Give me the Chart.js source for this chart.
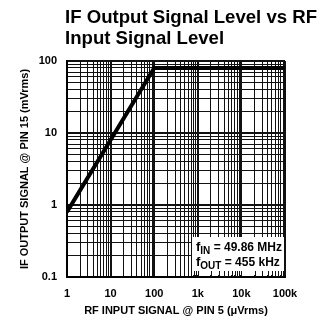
<!DOCTYPE html>
<html>
<head>
<meta charset="utf-8">
<script src="https://cdn.jsdelivr.net/npm/chart.js@4.4.0/dist/chart.umd.min.js"></script>
<style>
  html, body { margin: 0; padding: 0; background: #fff; }
  #wrap { width: 324px; height: 324px; position: relative; }
</style>
</head>
<body>
<div id="wrap"><canvas id="myChart"></canvas></div>
<script>
// RF input (uVrms) vs IF output (mVrms)
const rfInput = [1, 100, 100000];
const ifOutput = [0.8, 80, 80];

const xDecades = [1, 10, 100, 1000, 10000, 100000];
const xTickLabels = ['1', '10', '100', '1k', '10k', '100k'];
const yDecades = [0.1, 1, 10, 100];
const yTickLabels = ['0.1', '1', '10', '100'];

const titleLines = ['IF Output Signal Level vs RF', 'Input Signal Level'];
const noteLines = [['f', 'IN', ' = 49.86 MHz'], ['f', 'OUT', ' = 455 kHz']];

const FONT = '"Liberation Sans", Arial, sans-serif';

// ticks at 1..9 of every decade
function logTicks(decades) {
  const out = [];
  for (let i = 0; i < decades.length; i++) {
    out.push({ value: decades[i] });
    if (i < decades.length - 1) {
      for (let m = 2; m <= 9; m++) out.push({ value: +(decades[i] * m).toPrecision(3) });
    }
  }
  return out;
}

function isDecade(v) {
  const l = Math.log10(v);
  return Math.abs(l - Math.round(l)) < 1e-6;
}

const pts = rfInput.map((x, i) => ({ x: x, y: ifOutput[i] }));

const extras = {
  id: 'extras',
  beforeDatasetsDraw(chart) {
    const ctx = chart.ctx;
    const a = chart.chartArea;
    const xs = chart.scales.x;
    // white note box over the grid
    const bx = a.left + 125, by = a.bottom - 40;
    ctx.save();
    ctx.fillStyle = '#fff';
    ctx.fillRect(bx, by, a.right - bx - 1, a.bottom - by - 2);
    // short ticks kept along bottom edge
    ctx.strokeStyle = '#111';
    ctx.lineWidth = 1;
    xs.ticks.forEach(t => {
      const px = xs.getPixelForValue(t.value);
      if (px > bx && px < a.right - 1) {
        ctx.beginPath();
        ctx.moveTo(Math.round(px) + 0.5, a.bottom - 6);
        ctx.lineTo(Math.round(px) + 0.5, a.bottom);
        ctx.stroke();
      }
    });
    // note text
    ctx.fillStyle = '#000';
    ctx.textBaseline = 'alphabetic';
    noteLines.forEach((parts, i) => {
      let x = bx + 4;
      const y = by + 14 + i * 15;
      ctx.font = 'bold 13px ' + FONT;
      ctx.fillText(parts[0], x, y);
      x += ctx.measureText(parts[0]).width;
      ctx.font = 'bold 10px ' + FONT;
      ctx.fillText(parts[1], x, y + 3);
      x += ctx.measureText(parts[1]).width;
      ctx.font = 'bold 12px ' + FONT;
      ctx.fillText(parts[2], x, y);
    });
    ctx.restore();
  },
  afterDraw(chart) {
    const ctx = chart.ctx;
    ctx.save();
    ctx.fillStyle = '#000';
    ctx.font = 'bold 18.6px ' + FONT;
    ctx.textBaseline = 'alphabetic';
    titleLines.forEach((t, i) => ctx.fillText(t, 65, 23 + i * 21));
    ctx.restore();
  }
};

new Chart(document.getElementById('myChart'), {
  type: 'scatter',
  data: {
    datasets: [{
      data: pts,
      showLine: true,
      borderColor: '#000',
      borderWidth: 4,
      pointRadius: 0,
      fill: false
    }]
  },
  options: {
    responsive: true,
    maintainAspectRatio: false,
    animation: false,
    layout: { padding: { left: 0, top: 61, right: 39, bottom: 0 } },
    plugins: { legend: { display: false }, tooltip: { enabled: false } },
    scales: {
      x: {
        type: 'logarithmic',
        min: 1,
        max: 100000,
        afterBuildTicks: s => { s.ticks = logTicks(xDecades); },
        afterFit: s => { s.height = 47; },
        grid: {
          color: '#111',
          lineWidth: c => (c.tick && isDecade(c.tick.value) ? 2 : 1),
          drawTicks: false
        },
        border: { color: '#000', width: 2 },
        ticks: {
          autoSkip: false,
          maxRotation: 0,
          padding: 10,
          color: '#000',
          font: { family: FONT, size: 11, weight: 'bold' },
          callback: v => { const i = xDecades.indexOf(v); return i >= 0 ? xTickLabels[i] : ''; }
        },
        title: {
          display: true,
          text: 'RF INPUT SIGNAL @ PIN 5 (\u03bcVrms)',
          color: '#000',
          font: { family: FONT, size: 11, weight: 'bold' },
          padding: { top: 6, bottom: 6 }
        }
      },
      y: {
        type: 'logarithmic',
        min: 0.1,
        max: 100,
        afterBuildTicks: s => { s.ticks = logTicks(yDecades); },
        afterFit: s => { s.width = 67; },
        grid: {
          color: '#111',
          lineWidth: c => (c.tick && isDecade(c.tick.value) ? 2 : 1),
          drawTicks: false
        },
        border: { color: '#000', width: 2 },
        ticks: {
          autoSkip: false,
          padding: 10,
          color: '#000',
          font: { family: FONT, size: 11, weight: 'bold' },
          callback: v => { const i = yDecades.findIndex(d => Math.abs(d - v) < 1e-9); return i >= 0 ? yTickLabels[i] : ''; }
        },
        title: {
          display: true,
          text: 'IF OUTPUT SIGNAL @ PIN 15 (mVrms)',
          color: '#000',
          font: { family: FONT, size: 11, weight: 'bold' },
          padding: { top: 18, bottom: 18 }
        }
      }
    }
  },
  plugins: [extras]
});
</script>
</body>
</html>
